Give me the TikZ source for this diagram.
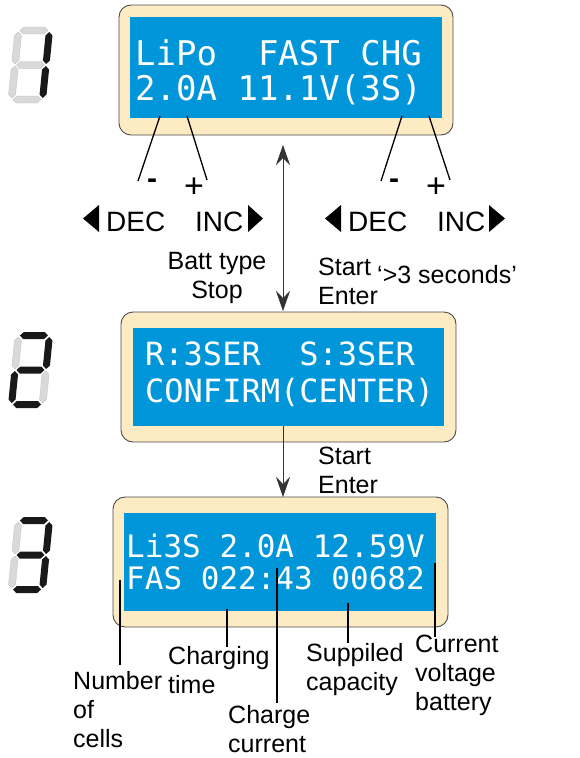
\documentclass[tikz,border=0pt]{standalone}
\usepackage{fontspec}
\setmainfont{Liberation Sans}
\newfontfamily\lcdfont{DejaVu Sans Mono}
\usetikzlibrary{arrows.meta}
\definecolor{cream}{HTML}{FCEBC3}
\definecolor{lcdblue}{HTML}{0096D9}
\definecolor{segoffc}{HTML}{D9D9D9}
\tikzset{
  panel/.style={draw=black!70, line width=0.9pt, fill=cream, rounded corners=12pt, inner sep=0pt},
  screen/.style={fill=lcdblue, inner sep=0pt},
  lcd/.style={text=white, inner sep=0pt, anchor=base west},
  lbl/.style={inner sep=0pt, font=\fontsize{25}{29}\selectfont, align=left, anchor=base west},
  btn/.style={inner sep=0pt, font=\fontsize{28}{32}\selectfont, anchor=base west},
  sign/.style={inner sep=0pt, anchor=base},
  ptr/.style={line width=1.3pt},
  flowtip/.tip={Stealth[length=20pt,width=14pt,inset=7pt]},
  flowline/.style={line width=0.8pt, draw=black!80},
  segon/.style={fill=black!90},
  segoff/.style={fill=segoffc, draw=black!25, line width=0.3pt},
}
\newcommand\hsegm[2]{\path[#1] (-14,#2) -- ++(3.5,-3.5) -- ++(21,0) -- ++(3.5,3.5) -- ++(-3.5,3.5) -- ++(-21,0) -- cycle;}
\newcommand\vsegm[3]{\path[#1] (#2,#3) -- ++(3.5,3.5) -- ++(0,25) -- ++(-3.5,3.5) -- ++(-3.5,-3.5) -- ++(0,-25) -- cycle;}
\newcommand\sevdigit[9]{%
  \begin{scope}[shift={(#1,#2)}, xslant=0.1]
    \hsegm{#3}{-34.5}
    \vsegm{#4}{15.5}{-33}
    \vsegm{#5}{15.5}{1}
    \hsegm{#6}{34.5}
    \vsegm{#7}{-15.5}{1}
    \vsegm{#8}{-15.5}{-33}
    \hsegm{#9}{0}
  \end{scope}}
\begin{document}
\begin{tikzpicture}[x=1pt,y=-1pt]
\useasboundingbox (0,0) rectangle (580,758);

% digits
\sevdigit{30.5}{65}{segoff}{segon}{segon}{segoff}{segoff}{segoff}{segoff}
\sevdigit{30.5}{370}{segon}{segon}{segoff}{segon}{segon}{segoff}{segon}
\sevdigit{30.5}{555}{segon}{segon}{segon}{segon}{segoff}{segoff}{segon}

% panel 1
\node[panel, minimum width=334pt, minimum height=130pt] (box1) at (286,70) {};
\node[screen, minimum width=312pt, minimum height=101pt] (scr1) at (286,67.5) {};
\node[lcd, font=\lcdfont\fontsize{34}{34}\selectfont] (t1a) at (135,65) {LiPo~~FAST~CHG};
\node[lcd, font=\lcdfont\fontsize{34}{34}\selectfont] (t1b) at (135,100) {2.0A~11.1V(3S)};

% panel 2
\node[panel, minimum width=335pt, minimum height=130pt] (box2) at (288.5,377) {};
\node[screen, minimum width=311pt, minimum height=98pt] (scr2) at (288.5,377) {};
\node[lcd, font=\lcdfont\fontsize{32}{32}\selectfont] (t2a) at (145,365) {R:3SER~~S:3SER};
\node[lcd, font=\lcdfont\fontsize{32}{32}\selectfont] (t2b) at (145,402) {CONFIRM(CENTER)};

% panel 3
\node[panel, minimum width=335pt, minimum height=130pt] (box3) at (280.5,562) {};
\node[screen, minimum width=312pt, minimum height=98pt] (scr3) at (280,562) {};
\node[lcd, font=\lcdfont\fontsize{31}{31}\selectfont] (t3a) at (126,557) {Li3S~2.0A~12.59V};
\node[lcd, font=\lcdfont\fontsize{31}{31}\selectfont] (t3b) at (126,589) {FAS~022:43~00682};

% button pointers panel 1
\coordinate (p1s) at (160,116); \coordinate (p1e) at (138,181);
\coordinate (p2s) at (187,116); \coordinate (p2e) at (207,180);
\coordinate (p3s) at (402,116); \coordinate (p3e) at (381,181);
\coordinate (p4s) at (429,116); \coordinate (p4e) at (450,180);
\draw[ptr] (p1s) -- (p1e);
\draw[ptr] (p2s) -- (p2e);
\draw[ptr] (p3s) -- (p3e);
\draw[ptr] (p4s) -- (p4e);

\node[sign, font=\bfseries\fontsize{30}{30}\selectfont] (minus1) at (152,188) {-};
\node[sign, font=\fontsize{34}{34}\selectfont] (plus1) at (194,197) {+};
\node[sign, font=\bfseries\fontsize{30}{30}\selectfont] (minus2) at (394,188) {-};
\node[sign, font=\fontsize{34}{34}\selectfont] (plus2) at (436,197) {+};

\node[btn] (dec1) at (106,231) {DEC};
\node[btn] (inc1) at (195,231) {INC};
\node[btn] (dec2) at (348,231) {DEC};
\node[btn] (inc2) at (437,231) {INC};
\fill (99,205) -- (99,232) -- (83,218.5) -- cycle;
\fill (248,205) -- (248,232) -- (263,218.5) -- cycle;
\fill (341,205) -- (341,232) -- (325,218.5) -- cycle;
\fill (489,205) -- (489,232) -- (505,218.5) -- cycle;

% flow arrows
\coordinate (f1top) at (283,145);
\coordinate (f1bot) at (283,311);
\draw[flowline, flowtip-flowtip] (f1top) -- (f1bot);
\coordinate (f2top) at (283,426);
\coordinate (f2bot) at (283,497);
\draw[flowline, -flowtip] (f2top) -- (f2bot);

% (multi-line nodes: base anchor is the last line's baseline)
\node[lbl, align=center, anchor=base] (batt) at (217,298) {Batt type\\Stop};
\node[lbl] (start1) at (318,304) {Start\\Enter};
\node[lbl] (secs) at (377,283) {‘>3 seconds’};
\node[lbl] (start2) at (318,493) {Start\\Enter};

% panel 3 pointers
\coordinate (q1s) at (120,580); \coordinate (q1e) at (120,665);
\coordinate (q2s) at (227,609); \coordinate (q2e) at (227,647);
\coordinate (q3s) at (277,568); \coordinate (q3e) at (277,703);
\coordinate (q4s) at (348,603); \coordinate (q4e) at (348,643);
\coordinate (q5s) at (435,563); \coordinate (q5e) at (435,637);
\draw[ptr] (q1s) -- (q1e);
\draw[ptr] (q2s) -- (q2e);
\draw[ptr] (q3s) -- (q3e);
\draw[ptr] (q4s) -- (q4e);
\draw[ptr] (q5s) -- (q5e);

\node[lbl] (cells) at (73,747) {Number\\of\\cells};
\node[lbl] (ctime) at (168,693) {Charging\\time};
\node[lbl] (ccur) at (228,752) {Charge\\current};
\node[lbl] (scap) at (306,690) {Suppiled\\capacity};
\node[lbl] (cvolt) at (415,710) {Current\\voltage\\battery};
\end{tikzpicture}
\end{document}
